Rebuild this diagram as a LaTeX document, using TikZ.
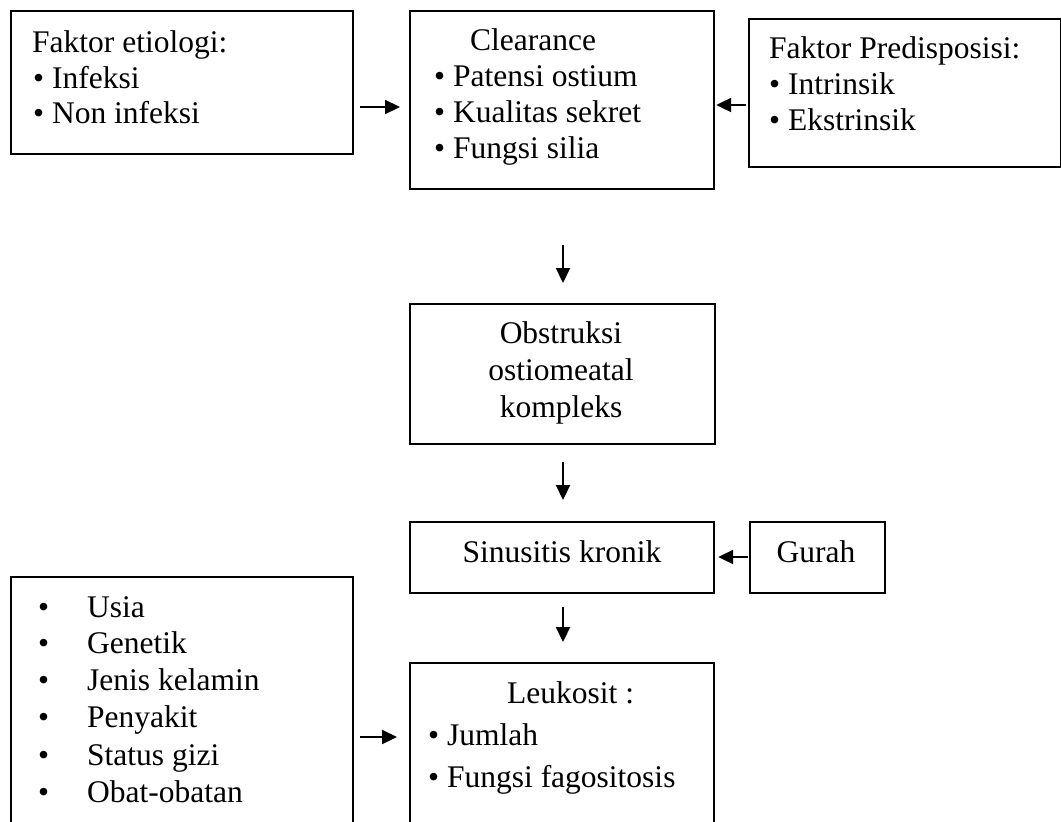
\documentclass[tikz,border=0pt]{standalone}
\usepackage{fontspec}
\setmainfont{Liberation Serif}
\usetikzlibrary{arrows.meta}
\begin{document}
\begin{tikzpicture}[x=1pt,y=-1pt,
  box/.style={draw=black,line width=2.2pt,inner sep=0pt,anchor=north west},
  txt/.style={inner sep=0pt,anchor=base west,font=\fontsize{31.5}{36}\selectfont},
  ctxt/.style={inner sep=0pt,anchor=base,font=\fontsize{31.5}{36}\selectfont},
  arr/.style={line width=2.2pt,-{Triangle[length=15pt,width=14pt]}}]
\useasboundingbox (0,0) rectangle (1061,822);
\clip (0,0) rectangle (1061,822);
% boxes
\node[box,minimum width=342pt,minimum height=143pt] (A) at (10,10) {};
\node[box,minimum width=304pt,minimum height=178pt] (B) at (409,10) {};
\node[box,minimum width=312pt,minimum height=148pt] (C) at (748,18) {};
\node[box,minimum width=305pt,minimum height=140pt] (D) at (409,303) {};
\node[box,minimum width=304pt,minimum height=71pt] (E) at (409,521) {};
\node[box,minimum width=135pt,minimum height=71pt] (F) at (749,521) {};
\node[box,minimum width=304pt,minimum height=200pt] (G) at (409,662) {};
\node[box,minimum width=342pt,minimum height=300pt] (H) at (10,576) {};
% texts
\node[txt] (a1) at (32,52) {Faktor etiologi:};
\node[txt] (a2) at (33,88) {• Infeksi};
\node[txt] (a3) at (33,123) {• Non infeksi};
\node[txt] (b1) at (470,50) {Clearance};
\node[txt] (b2) at (434,86) {• Patensi ostium};
\node[txt] (b3) at (434,122) {• Kualitas sekret};
\node[txt] (b4) at (434,158) {• Fungsi silia};
\node[txt] (c1) at (769,58) {Faktor Predisposisi:};
\node[txt] (c2) at (769,94) {• Intrinsik};
\node[txt] (c3) at (769,130) {• Ekstrinsik};
\node[ctxt] (d1) at (561,343) {Obstruksi};
\node[ctxt] (d2) at (561,380) {ostiomeatal};
\node[ctxt] (d3) at (561,417) {kompleks};
\node[ctxt] (e1) at (562,562) {Sinusitis kronik};
\node[ctxt] (f1) at (816,562) {Gurah};
\node[txt] (g1) at (507,703) {Leukosit :};
\node[txt] (g2) at (428,745) {• Jumlah};
\node[txt] (g3) at (428,787) {• Fungsi fagositosis};
\foreach \t/\yy [count=\i] in {Usia/617,Genetik/653,Jenis kelamin/690,Penyakit/727,Status gizi/765,Obat-obatan/802}{
  \node[txt] (hb\i) at (38,\yy) {•};
  \node[txt] (h\i) at (87,\yy) {\t};
}
% connectors
\coordinate (r1) at (0,107);
\coordinate (r2) at (0,105);
\coordinate (r3) at (0,557);
\coordinate (r4) at (0,737);
\coordinate (cx) at (563,0);
\draw[arr,shorten <=6pt,shorten >=9pt] (A.east|-r1) -- (B.west|-r1);
\draw[arr,shorten <=2pt,shorten >=1pt] (C.west|-r2) -- (B.east|-r2);
\draw[arr,shorten <=55pt,shorten >=20pt] (B.south-|cx) -- (D.north-|cx);
\draw[arr,shorten <=17pt,shorten >=21pt] (D.south-|cx) -- (E.north-|cx);
\draw[arr,shorten <=1pt,shorten >=3pt] (F.west|-r3) -- (E.east|-r3);
\draw[arr,shorten <=13pt,shorten >=20pt] (E.south-|cx) -- (G.north-|cx);
\draw[arr,shorten <=6pt,shorten >=12pt] (H.east|-r4) -- (G.west|-r4);
\end{tikzpicture}
\end{document}
